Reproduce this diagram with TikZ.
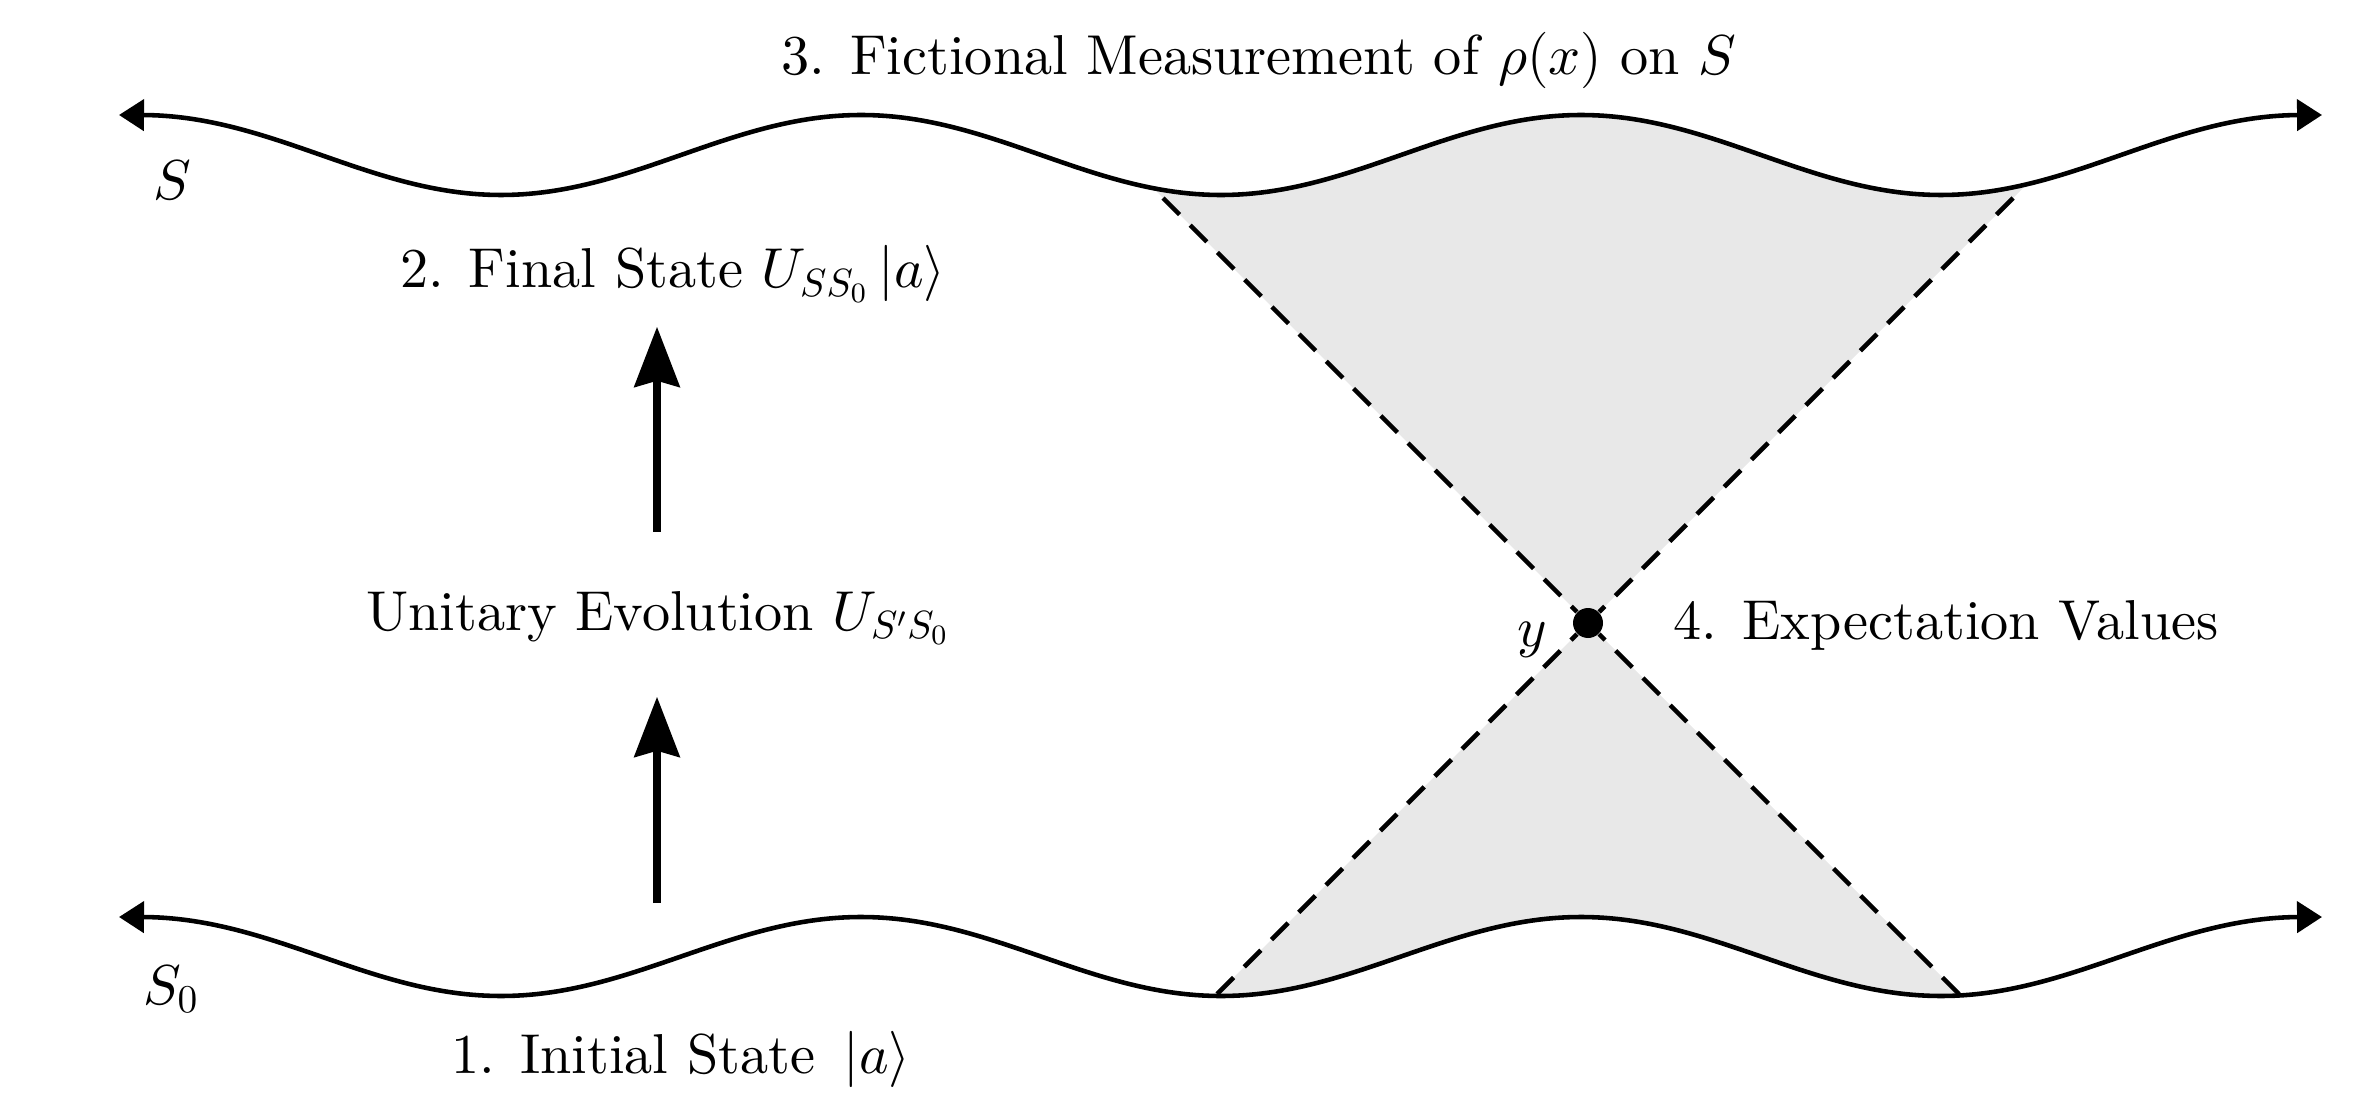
\RequirePackage{fix-cm}
\documentclass[tikz,border=0pt]{standalone}
\usepackage{fontspec}
\setmainfont{lmroman10-regular.otf}[
    ItalicFont=lmroman10-italic.otf,
    BoldFont=lmroman10-bold.otf,
    BoldItalicFont=lmroman10-bolditalic.otf
]
\DeclareFontShape{OML}{cmm}{m}{it}{<-6>cmmi5<6-7>cmmi6<7-8>cmmi7<8-9.5>cmmi8<9.5->cmmi10}{}
\usepackage{tikz}
\usetikzlibrary{arrows.meta}

\definecolor{conegray}{RGB}{232,232,232}

\tikzstyle{slice} = [
    line width=1.3pt,
    {Triangle[length=0.25cm,width=0.31cm]}-{Triangle[length=0.25cm,width=0.31cm]}
]
\tikzstyle{cone} = [
    line width=1.3pt,
    dash pattern=on 0.235cm off 0.15cm
]
\tikzstyle{evolve} = [
    line width=2.3pt,
    -{Stealth[length=0.6cm,width=0.45cm,inset=0.06cm]}
]
\tikzstyle{txt} = [
    font=\fontsize{16}{19}\selectfont
]
\tikzstyle{event} = [
    circle,
    fill=black,
    inner sep=0pt,
    minimum size=0.3cm
]

\begin{document}
\begin{tikzpicture}
\useasboundingbox (0,0) rectangle (23.61,11.02);

% shaded parts of the light cone
\begin{scope}
\clip (15.88,4.79) -- ++(-6,6) -- ++(12,0) -- cycle;
\fill[conegray] plot[domain=9:23,samples=200] (\x,{9.47-0.40*cos(50*(\x-12.21))})
    -- (23,4) -- (9,4) -- cycle;
\end{scope}
\begin{scope}
\clip (15.88,4.79) -- ++(-6,-6) -- ++(12,0) -- cycle;
\fill[conegray] plot[domain=9:23,samples=200] (\x,{1.455-0.395*cos(50*(\x-12.21))})
    -- (23,6) -- (9,6) -- cycle;
\end{scope}

% the two surfaces
\draw[slice] (1.19,9.87) -- plot[domain=1.5:22.92,samples=300] (\x,{9.47-0.40*cos(50*(\x-12.21))}) -- (23.22,9.87);
\draw[slice] (1.19,1.85) -- plot[domain=1.5:22.92,samples=300] (\x,{1.455-0.395*cos(50*(\x-12.21))}) -- (23.22,1.85);

\node[txt, anchor=base] (sname) at (1.72,9.02) {$S$};
\node[txt, anchor=base] (sinit) at (1.71,0.98) {$S_0$};

% light cone of y
\node[event] (y) at (15.88,4.79) {};
\coordinate (tl) at (11.63,9.04);
\coordinate (tr) at (20.13,9.04);
\coordinate (bl) at (12.17,1.08);
\coordinate (br) at (19.59,1.08);

\draw[cone] (tl) -- (y);
\draw[cone] (tr) -- (y);
\draw[cone] (bl) -- (y);
\draw[cone] (br) -- (y);

\node[txt, anchor=base] (ylab) at (15.32,4.56) {$y$};
\node[txt, anchor=base] (expect) at (19.46,4.63) {4. Expectation Values};

% the steps
\node[txt, anchor=base] (title) at (12.59,10.27) {3. Fictional Measurement of $\rho(x)$ on $S$};
\node[txt, anchor=base] (final) at (6.73,8.14) {2. Final State $U_{SS_0}\,|a\rangle$};
\node[txt, anchor=base] (evol) at (6.58,4.72) {Unitary Evolution $U_{S'S_0}$};
\node[txt, anchor=base] (initial) at (6.81,0.29) {1. Initial State $\,|a\rangle$};

\coordinate (foot) at (6.57,1.99);
\draw[evolve, shorten >=0.40cm] (foot) -- (foot |- evol.south);
\draw[evolve, shorten <=0.47cm, shorten >=0.12cm] (evol.north -| foot) -- (foot |- final.south);

\end{tikzpicture}
\end{document}
